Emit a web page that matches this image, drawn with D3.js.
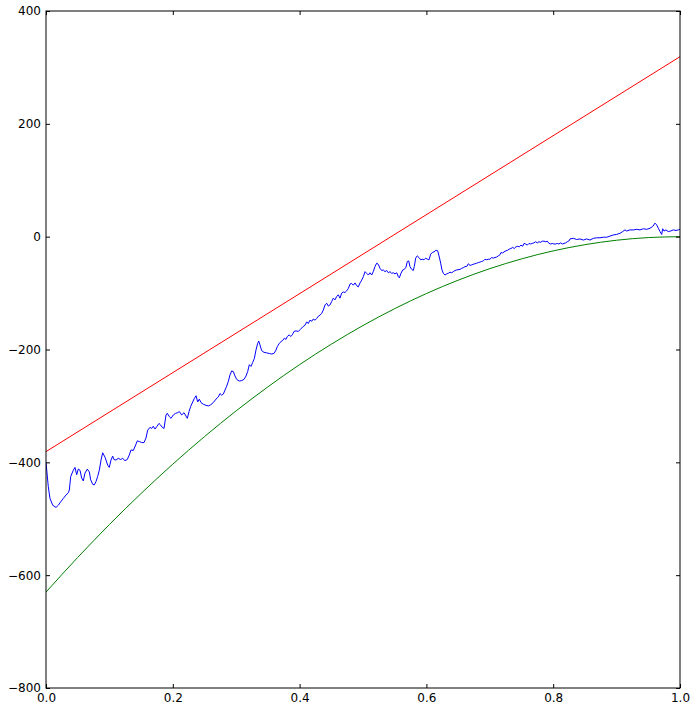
<!DOCTYPE html>
<html>
<head>
<meta charset="utf-8">
<script src="https://cdn.jsdelivr.net/npm/d3@7"></script>
<style>
  html, body { margin: 0; padding: 0; background: #ffffff; }
  svg { display: block; }
  .tick text { font-family: "DejaVu Sans", sans-serif; font-size: 12px; fill: #000; }
</style>
</head>
<body>
<svg id="chart" width="697" height="713"></svg>
<script>
// ---- data ----
const xTicks = [0.0, 0.2, 0.4, 0.6, 0.8, 1.0];
const yTicks = [-800, -600, -400, -200, 0, 200, 400];

// red straight line (endpoints)
const redX = [0, 1];
const redY = [-381, 319];

// green curve, sampled
const greenX = [0, 0.05, 0.1, 0.15, 0.2, 0.25, 0.3, 0.35, 0.4, 0.45, 0.5, 0.55, 0.6, 0.65, 0.7, 0.75, 0.8, 0.85, 0.9, 0.95, 1.0];
const greenY = [-630, -568.6, -510.3, -455.2, -403.2, -354.4, -308.7, -266.2, -226.8, -190.6, -157.5, -127.6, -100.8, -77.2, -56.7, -39.4, -25.2, -14.2, -6.3, -1.6, 0];

// blue noisy series
const blueX = [0, .0036, .0063, .0106, .0158, .0194, .0232, .0273, .0315, .0352, .0368, .039, .0431, .0457, .0484, .0509, .0536, .0563, .0588, .0615,
  .0651, .0683, .0705, .0737, .0762, .0789, .0815, .0841, .0868, .0894, .0931, .0973, .0998, .1025, .1052, .1073, .1104, .114, .1178, .121,
  .1246, .1282, .1314, .1341, .1377, .1415, .144, .1472, .1509, .1546, .1577, .1604, .164, .1667, .1692, .1719, .1746, .1782, .1809, .1834,
  .1861, .1893, .1913, .1945, .1972, .2008, .2046, .2077, .2103, .214, .2177, .2208, .2229, .2256, .2282, .2314, .2339, .2366, .2393, .2418,
  .2445, .2481, .2524, .256, .2598, .2639, .2681, .2718, .2744, .2771, .2797, .2823, .285, .2875, .2902, .2929, .2954, .2981, .3008, .3049,
  .3087, .3123, .3155, .3181, .3207, .3233, .326, .3286, .3312, .3339, .3355, .3375, .3402, .3438, .3481, .3522, .356, .3596, .3628, .3648,
  .368, .3707, .3733, .3759, .3785, .3806, .3837, .386, .3885, .3912, .3943, .398, .4006, .4049, .4085, .4112, .4137, .4164, .4191, .4216,
  .4243, .427, .4295, .4322, .4349, .4374, .4401, .4427, .4453, .4479, .4506, .4532, .4558, .4585, .461, .4637, .4664, .4689, .4716, .4743,
  .4768, .4795, .4822, .4847, .4874, .4901, .4926, .4953, .498, .5005, .5032, .5058, .5084, .511, .5137, .5162, .5189, .5216, .5241, .5268,
  .5295, .532, .5347, .5374, .5399, .5426, .5453, .5478, .5505, .5532, .5557, .5573, .5599, .5626, .5651, .5678, .5699, .5721, .5741, .5768,
  .5793, .5809, .5831, .5856, .5883, .591, .5935, .5962, .5989, .6014, .6041, .6068, .6093, .612, .6151, .6178, .6203, .6225, .6246, .6267,
  .6293, .632, .6345, .6372, .6399, .6424, .6451, .6478, .653, .6557, .6582, .6609, .6636, .6661, .6688, .6714, .674, .6767, .6793, .6819,
  .6845, .6872, .6897, .6924, .6951, .6976, .7003, .703, .7055, .7082, .7109, .7134, .7161, .7177, .7203, .7224, .7256, .7282, .7308, .7334,
  .7361, .7386, .7413, .744, .7465, .7492, .7519, .7539, .7566, .7591, .7618, .7645, .767, .7697, .7724, .7749, .7776, .7803, .7828, .7855,
  .7882, .7907, .7934, .7961, .7986, .8013, .8039, .8065, .8091, .8118, .8144, .817, .8197, .8222, .8254, .8265, .8317, .8371, .8423, .8475,
  .8528, .858, .8633, .8686, .8738, .879, .8844, .8896, .8948, .9001, .9054, .9096, .9132, .9159, .9211, .9263, .9317, .9369, .9421, .9475,
  .9527, .9569, .9606, .9632, .9658, .9685, .9711, .9727, .9748, .9779, .9815, .9853, .9894, .9937, .9973, 1.0];
const blueY = [-400, -443, -464, -476, -480, -476, -470, -464, -458, -454, -449, -425, -414, -409, -422, -412, -414, -428, -433, -419,
  -412, -417, -431, -439, -440, -434, -425, -414, -396, -383, -391, -405, -409, -396, -389, -395, -396, -393, -395, -393,
  -397, -395, -387, -378, -379, -369, -362, -363, -365, -365, -357, -343, -338, -340, -336, -341, -337, -331, -334, -338,
  -340, -316, -313, -319, -322, -316, -313, -312, -310, -316, -312, -318, -322, -310, -301, -293, -287, -282, -293, -288,
  -294, -297, -299, -300, -298, -294, -288, -284, -278, -281, -279, -272, -265, -257, -245, -238, -239, -247, -253, -256,
  -255, -253, -247, -239, -227, -230, -223, -216, -201, -189, -185, -192, -202, -205, -206, -207, -208, -207, -201, -195,
  -189, -186, -184, -180, -182, -177, -174, -177, -174, -168, -167, -168, -165, -160, -157, -151, -154, -148, -150, -146,
  -148, -145, -141, -139, -136, -130, -121, -118, -123, -121, -115, -109, -112, -106, -103, -109, -100, -98, -99, -96,
  -92, -84, -83, -86, -82, -87, -89, -82, -77, -71, -62, -65, -68, -64, -68, -62, -53, -47, -49, -56,
  -60, -59, -62, -60, -64, -62, -65, -64, -66, -64, -71, -73, -65, -59, -58, -54, -44, -43, -53, -58,
  -60, -53, -38, -34, -37, -41, -40, -41, -38, -40, -41, -31, -28, -27, -24, -25, -36, -47, -59, -65,
  -68, -66, -65, -63, -64, -62, -60, -59, -58, -56, -55, -53, -53, -48, -51, -50, -49, -48, -47, -46,
  -45, -44, -43, -40, -41, -40, -40, -37, -38, -37, -36, -34, -32, -28, -29, -27, -25, -24, -22, -21,
  -19, -21, -18, -17, -18, -15, -17, -12, -13, -15, -12, -13, -12, -11, -9, -11, -9, -10, -8, -8,
  -9, -8, -12, -13, -12, -13, -13, -12, -13, -11, -13, -12, -11, -9, -7, -4, -3, -5, -4, -6,
  -4, -6, -3, -2, -2, -1, -1, 1, 3, 4, 6, 9, 12, 10, 12, 12, 13, 12, 14, 13,
  15, 18, 24, 21, 15, 9, 4, 14, 10, 12, 9, 10, 12, 11, 12, 13];

// ---- layout ----
const svg = d3.select("#chart");
const mLeft = 46, mRight = 680, mTop = 11, mBottom = 688;

const x = d3.scaleLinear().domain([0, 1]).range([mLeft, mRight]);
const y = d3.scaleLinear().domain([-800, 400]).range([mBottom, mTop]);

svg.append("rect").attr("x", 0).attr("y", 0).attr("width", 697).attr("height", 713).attr("fill", "#fff");

svg.append("clipPath").attr("id", "clip")
  .append("rect").attr("x", mLeft).attr("y", mTop).attr("width", mRight - mLeft).attr("height", mBottom - mTop);

const plot = svg.append("g").attr("clip-path", "url(#clip)");

function drawSeries(xs, ys, color, curve) {
  const pts = xs.map((v, i) => [v, ys[i]]);
  const gen = d3.line().x(d => x(d[0])).y(d => y(d[1]));
  if (curve) gen.curve(curve);
  plot.append("path")
    .attr("fill", "none")
    .attr("stroke", color)
    .attr("stroke-width", 1)
    .attr("stroke-linejoin", "round")
    .attr("d", gen(pts));
}

drawSeries(blueX, blueY, "#0000ff", null);
drawSeries(redX, redY, "#ff0000", null);
drawSeries(greenX, greenY, "#008000", d3.curveMonotoneX);

const fmtY = d => d < 0 ? "\u2212" + Math.abs(d) : String(d);
const fmtX = d => d.toFixed(1);

const gL = svg.append("g").attr("transform", `translate(${mLeft},0)`)
  .call(d3.axisLeft(y).tickValues(yTicks).tickFormat(fmtY).tickSizeInner(-4).tickSizeOuter(0).tickPadding(5));
const gR = svg.append("g").attr("transform", `translate(${mRight},0)`)
  .call(d3.axisRight(y).tickValues(yTicks).tickFormat("").tickSizeInner(-4).tickSizeOuter(0));
const gB = svg.append("g").attr("transform", `translate(0,${mBottom})`)
  .call(d3.axisBottom(x).tickValues(xTicks).tickFormat(fmtX).tickSizeInner(-4).tickSizeOuter(0).tickPadding(5));
const gT = svg.append("g").attr("transform", `translate(0,${mTop})`)
  .call(d3.axisTop(x).tickValues(xTicks).tickFormat("").tickSizeInner(-4).tickSizeOuter(0));

[gL, gR, gB, gT].forEach(g => {
  g.select(".domain").remove();
  g.selectAll(".tick line").attr("stroke", "#000").attr("stroke-width", 1);
  g.selectAll(".tick text").attr("fill", "#000").style("font-family", "'DejaVu Sans', sans-serif").style("font-size", "12px");
});

svg.append("rect")
  .attr("x", mLeft).attr("y", mTop)
  .attr("width", mRight - mLeft).attr("height", mBottom - mTop)
  .attr("fill", "none").attr("stroke", "#000").attr("stroke-width", 1);
</script>
</body>
</html>
